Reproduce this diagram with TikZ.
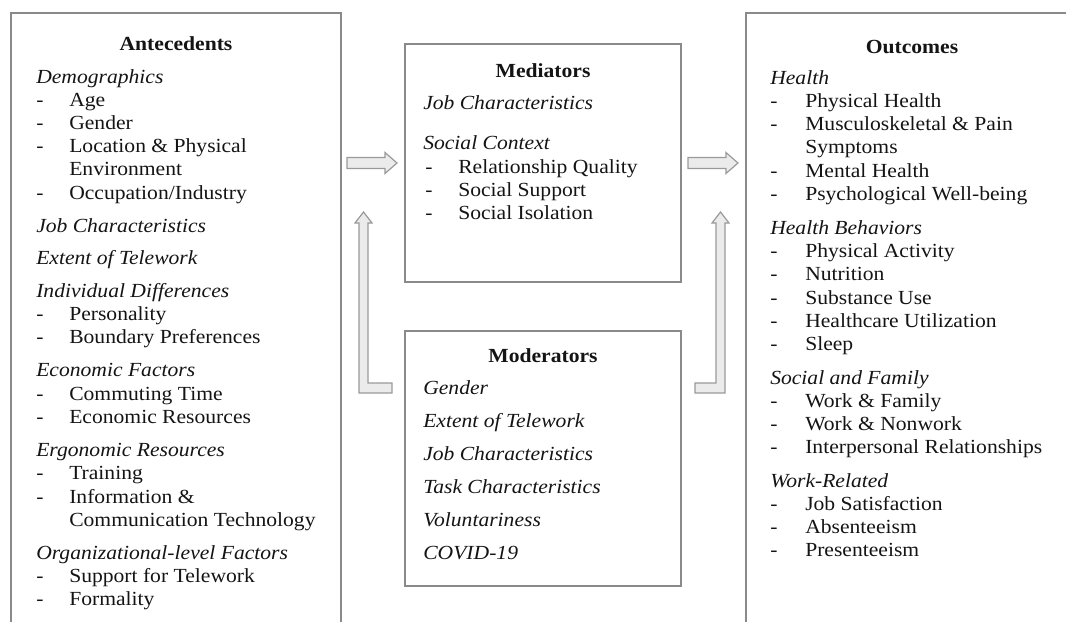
\documentclass[tikz,border=0pt]{standalone}
\usepackage{fontspec}
\setmainfont{Liberation Serif}[FakeStretch=1.08]
\definecolor{boxgray}{HTML}{8A8A8A}
\definecolor{arrowgray}{HTML}{9A9A9A}
\definecolor{arrowfill}{HTML}{EBEBEB}
\definecolor{inkgray}{HTML}{141414}
\tikzset{
    	every node/.append style={font=\fontsize{15}{18}\selectfont, text=inkgray}}

\begin{document}
\begin{tikzpicture}
  [x=0.75pt,y=-0.75pt,
   frame/.style={draw=boxgray,line width=1.1pt,inner sep=0pt,outer sep=0pt,anchor=north west},
   title/.style={font=\fontsize{15}{18}\selectfont\bfseries,anchor=base},
   head/.style={font=\fontsize{15}{18}\selectfont\itshape,anchor=base west,inner sep=0pt},
   item/.style={anchor=base west,inner sep=0pt},
   blockarrow/.style={draw=arrowgray,fill=arrowfill,line width=0.9pt,line join=miter}]
  \useasboundingbox (0,0) rectangle (1066,621);
  \clip (0,0) rectangle (1066,621);

  % the four boxes
  \node [frame,minimum width=247.5pt,minimum height=470pt] (ante) at (11,13) {};
  \node [frame,minimum width=207pt,minimum height=178.5pt] (med) at (405,44) {};
  \node [frame,minimum width=207pt,minimum height=191.25pt] (mod) at (405,331) {};
  \node [frame,minimum width=250.5pt,minimum height=470pt] (outc) at (746,13) {};

  \node [title] (antetitle) at (176,50) {Antecedents};
  \node [title] (medtitle) at (543,77) {Mediators};
  \node [title] (modtitle) at (543,362) {Moderators};
  \node [title] (outctitle) at (912,53) {Outcomes};

  % antecedents
  \foreach \y/\txt in {83/Demographics,232/Job Characteristics,264/Extent of Telework,
      297/Individual Differences,376/Economic Factors,456/Ergonomic Resources,
      559/Organizational-level Factors}
    \node [head] (ah\y) at (36,\y) {\txt};
  \foreach \y/\txt in {106/Age,129/Gender,152/Location \& Physical,199/{Occupation/Industry},
      320/Personality,343/Boundary Preferences,400/Commuting Time,423/Economic Resources,
      479/Training,503/Information \&,582/Support for Telework,605/Formality}{
    \node [item] (ad\y) at (36,\y) {-};
    \node [item] (ai\y) at (69,\y) {\txt};}
  \foreach \y/\txt in {175/Environment,526/Communication Technology}
    \node [item] (ai\y) at (69,\y) {\txt};

  % mediators
  \foreach \y/\txt in {109/Job Characteristics,149/Social Context}
    \node [head] (mh\y) at (423,\y) {\txt};
  \foreach \y/\txt in {173/Relationship Quality,196/Social Support,219/Social Isolation}{
    \node [item] (md\y) at (425,\y) {-};
    \node [item] (mi\y) at (458,\y) {\txt};}

  % moderators
  \foreach \y/\txt in {394/Gender,427/Extent of Telework,460/Job Characteristics,
      493/Task Characteristics,526/Voluntariness,559/COVID-19}
    \node [head] (oh\y) at (423,\y) {\txt};

  % outcomes
  \foreach \y/\txt in {84/Health,234/Health Behaviors,384/Social and Family,487/Work-Related}
    \node [head] (uh\y) at (770,\y) {\txt};
  \foreach \y/\txt in {107/Physical Health,130/Musculoskeletal \& Pain,177/Mental Health,
      200/Psychological Well-being,257/Physical Activity,280/Nutrition,304/Substance Use,
      327/Healthcare Utilization,350/Sleep,407/Work \& Family,430/Work \& Nonwork,
      453/Interpersonal Relationships,510/Job Satisfaction,533/Absenteeism,556/Presenteeism}{
    \node [item] (ud\y) at (770,\y) {-};
    \node [item] (ui\y) at (805,\y) {\txt};}
  \node [item] (ui153) at (805,153) {Symptoms};

  % block arrows
  \draw [blockarrow] (ante.east |- med.west) ++(6,-5.5) -- ++(38,0) -- ++(0,-5)
    -- ++(12,10.5) -- ++(-12,10.5) -- ++(0,-5) -- ++(-38,0) -- cycle;
  \draw [blockarrow] (med.east) ++(7,-5.5) -- ++(38,0) -- ++(0,-5)
    -- ++(12,10.5) -- ++(-12,10.5) -- ++(0,-5) -- ++(-38,0) -- cycle;
  \draw [blockarrow] (mod.north west) ++(-13,62) -- ++(-33,0) -- ++(0,-170) -- ++(-4,0)
    -- ++(8.5,-11) -- ++(8.5,11) -- ++(-4,0) -- ++(0,160) -- ++(24,0) -- cycle;
  \draw [blockarrow] (mod.north east) ++(14,52) -- ++(21,0) -- ++(0,-160) -- ++(-4,0)
    -- ++(8.5,-11) -- ++(8.5,11) -- ++(-4,0) -- ++(0,170) -- ++(-30,0) -- cycle;
\end{tikzpicture}
\end{document}
